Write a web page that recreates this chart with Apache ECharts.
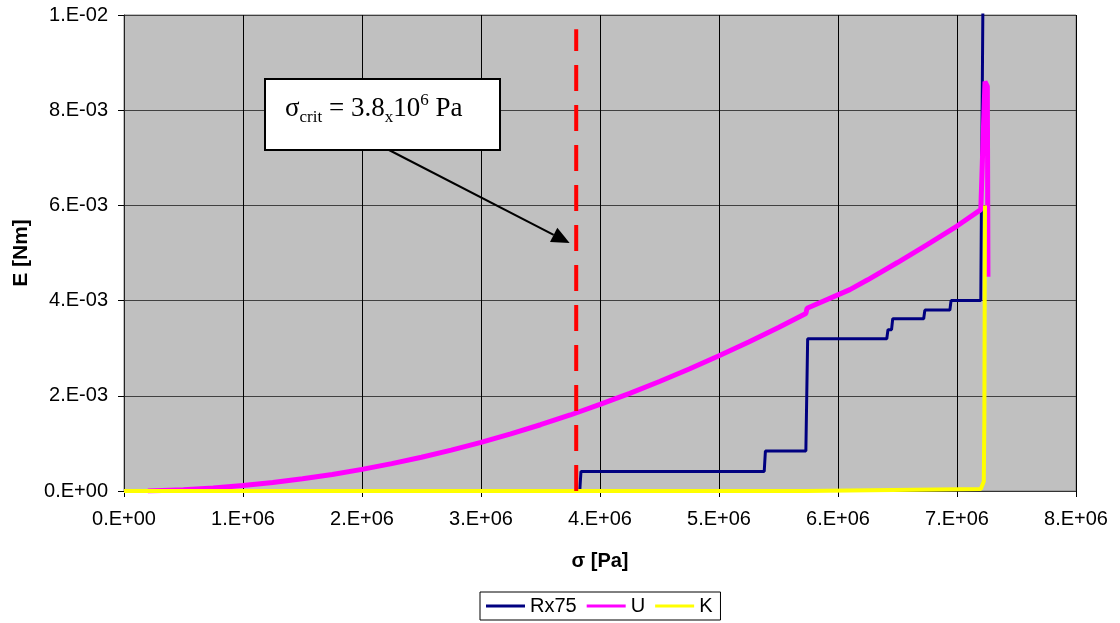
<!DOCTYPE html>
<html>
<head>
<meta charset="utf-8">
<script src="https://cdn.jsdelivr.net/npm/echarts@6/dist/echarts.min.js"></script>
<style>
  html, body { margin: 0; padding: 0; background: #fff; }
  #main { width: 1120px; height: 623px; }
</style>
</head>
<body>
<div id="main"></div>
<script>
// tick values
var xTicks = [0, 1e6, 2e6, 3e6, 4e6, 5e6, 6e6, 7e6, 8e6];
var yTicks = [0, 0.002, 0.004, 0.006, 0.008, 0.01];
var sigmaCrit = 3.8e6;

// Rx75 : steps [sigma, E]
var rx75 = [
	[0, 0], [3.83e6, 0], [3.84e6, 0.00041], [5.38e6, 0.00041], [5.39e6, 0.00084],
	[5.73e6, 0.00084], [5.745e6, 0.0032], [6.41e6, 0.0032], [6.42e6, 0.00339],
	[6.45e6, 0.00339], [6.46e6, 0.00362], [6.72e6, 0.00362], [6.73e6, 0.0038],
	[6.94e6, 0.0038], [6.95e6, 0.0040], [7.2e6, 0.0040], [7.205e6, 0.0059], [7.22e6, 0.011]
];
// U
var uVals = [
	[0.2e6, 0], [0.5e6, 0.000028], [0.75e6, 0.000064], [1.0e6, 0.000114], [1.25e6, 0.000178],
	[1.5e6, 0.000256], [1.75e6, 0.000348], [2.0e6, 0.000454], [2.25e6, 0.000575],
	[2.5e6, 0.00071], [2.75e6, 0.000859], [3.0e6, 0.001022], [3.25e6, 0.0012],
	[3.5e6, 0.001392], [3.75e6, 0.001597], [4.0e6, 0.001818], [4.25e6, 0.002052],
	[4.5e6, 0.0023], [4.75e6, 0.002563], [5.0e6, 0.00284], [5.25e6, 0.003131],
	[5.5e6, 0.003436], [5.73e6, 0.00373], [5.74e6, 0.00384], [6.1e6, 0.00423],
	[6.25e6, 0.004437], [6.5e6, 0.0048], [6.75e6, 0.005176], [7.0e6, 0.005566],
	[7.2e6, 0.00591], [7.235e6, 0.0086], [7.255e6, 0.0085], [7.26e6, 0.0045]
];
// K
var kVals = [
	[0, 0], [5.73e6, 0], [5.74e6, 0.00003], [7.2e6, 0.00004], [7.225e6, 0.0002],
	[7.23e6, 0.0015], [7.235e6, 0.006]
];
var critLine = [[sigmaCrit, 0], [sigmaCrit, 0.0097]];

function sci(v) {
	if (Math.abs(v) < 1e-12) return '0.E+00';
	var e = Math.floor(Math.log10(Math.abs(v)) + 1e-9);
	var m = Math.round(v / Math.pow(10, e));
	if (m >= 10) { m = m / 10; e++; }
	var s = Math.abs(e);
	return m + '.E' + (e < 0 ? '-' : '+') + (s < 10 ? '0' : '') + s;
}

var font = 'Liberation Sans, Arial, sans-serif';
var serif = 'Liberation Serif, Times New Roman, serif';
var chart = echarts.init(document.getElementById('main'));

var option = {
	backgroundColor: '#ffffff',
	animation: false,
	grid: {
		left: 124, right: 44, top: 15, bottom: 132,
		show: true, backgroundColor: '#C0C0C0', borderColor: '#808080', borderWidth: 1
	},
	legend: {
		data: ['Rx75', 'U', 'K'],
		left: 480, top: 592,
		padding: [4, 8, 4, 6],
		icon: 'rect',
		itemWidth: 39, itemHeight: 3, itemGap: 10,
		borderColor: '#000', borderWidth: 1,
		textStyle: { fontFamily: font, fontSize: 20, color: '#000' }
	},
	xAxis: {
		type: 'value', min: xTicks[0], max: xTicks[xTicks.length - 1], interval: 1e6,
		name: 'σ [Pa]', nameLocation: 'middle', nameGap: 60,
		nameTextStyle: { fontFamily: font, fontSize: 20, fontWeight: 'bold', color: '#000' },
		axisLine: { lineStyle: { color: '#333', width: 1 } },
		axisTick: { show: true, length: 6, lineStyle: { color: '#000' } },
		axisLabel: { formatter: sci, fontFamily: font, fontSize: 20, color: '#000', margin: 18 },
		splitLine: { show: true, lineStyle: { color: '#000', width: 1 } }
	},
	yAxis: {
		type: 'value', min: yTicks[0], max: yTicks[yTicks.length - 1], interval: 0.002,
		name: 'E [Nm]', nameLocation: 'middle', nameGap: 92,
		nameTextStyle: { fontFamily: font, fontSize: 21, fontWeight: 'bold', color: '#000' },
		axisLine: { show: true, lineStyle: { color: '#222', width: 1 } },
		axisTick: { show: true, length: 6, lineStyle: { color: '#000' } },
		axisLabel: { formatter: sci, fontFamily: font, fontSize: 20, color: '#000', margin: 16 },
		splitLine: { show: true, lineStyle: { color: '#404040', width: 1 } }
	},
	series: [{
		name: 'Rx75', type: 'line', data: rx75, symbol: 'none', clip: true,
		color: '#000080', lineStyle: { color: '#000080', width: 3 }, z: 3
	}, {
		name: 'U', type: 'line', data: uVals, symbol: 'none', clip: true,
		color: '#FF00FF', lineStyle: { color: '#FF00FF', width: 5 }, z: 4
	}, {
		name: 'K', type: 'line', data: kVals, symbol: 'none', clip: true,
		color: '#FFFF00', lineStyle: { color: '#FFFF00', width: 4 }, z: 5
	}, {
		name: 'crit', type: 'line', data: critLine, symbol: 'none', silent: true,
		color: '#FF0000', lineStyle: { color: '#FF0000', width: 4, type: [26, 14] }, z: 6
	}]
};
chart.setOption(option);

// annotation box and arrow
var tip = chart.convertToPixel({ gridIndex: 0 }, [3.745e6, 0.00521]);
var tail = [389, 150];
var dx = tip[0] - tail[0], dy = tip[1] - tail[1];
var len = Math.sqrt(dx * dx + dy * dy);
var ux = dx / len, uy = dy / len;
var hl = 18, hw = 8;
var bx = tip[0] - ux * hl, by = tip[1] - uy * hl;

chart.setOption({
	graphic: [{
		type: 'line', z: 100,
		shape: { x1: tail[0], y1: tail[1], x2: bx, y2: by },
		style: { stroke: '#000', lineWidth: 2 }
	}, {
		type: 'polygon', z: 100,
		shape: { points: [tip, [bx - uy * hw, by + ux * hw], [bx + uy * hw, by - ux * hw]] },
		style: { fill: '#000' }
	}, {
		type: 'rect', z: 101,
		shape: { x: 265, y: 79, width: 235, height: 71 },
		style: { fill: '#fff', stroke: '#000', lineWidth: 2 }
	}, {
		type: 'text', z: 102, x: 285, y: 92,
		style: {
			text: '{a|σ}{b|crit}{a| = 3.8}{b|x}{a|10}{c|6}{a| Pa}',
			rich: {
				a: { fontFamily: serif, fontSize: 27, lineHeight: 34, fill: '#000' },
				b: { fontFamily: serif, fontSize: 17, lineHeight: 18, verticalAlign: 'bottom', fill: '#000' },
				c: { fontFamily: serif, fontSize: 17, lineHeight: 18, verticalAlign: 'top', fill: '#000' }
			}
		}
	}]
});
</script>
</body>
</html>
